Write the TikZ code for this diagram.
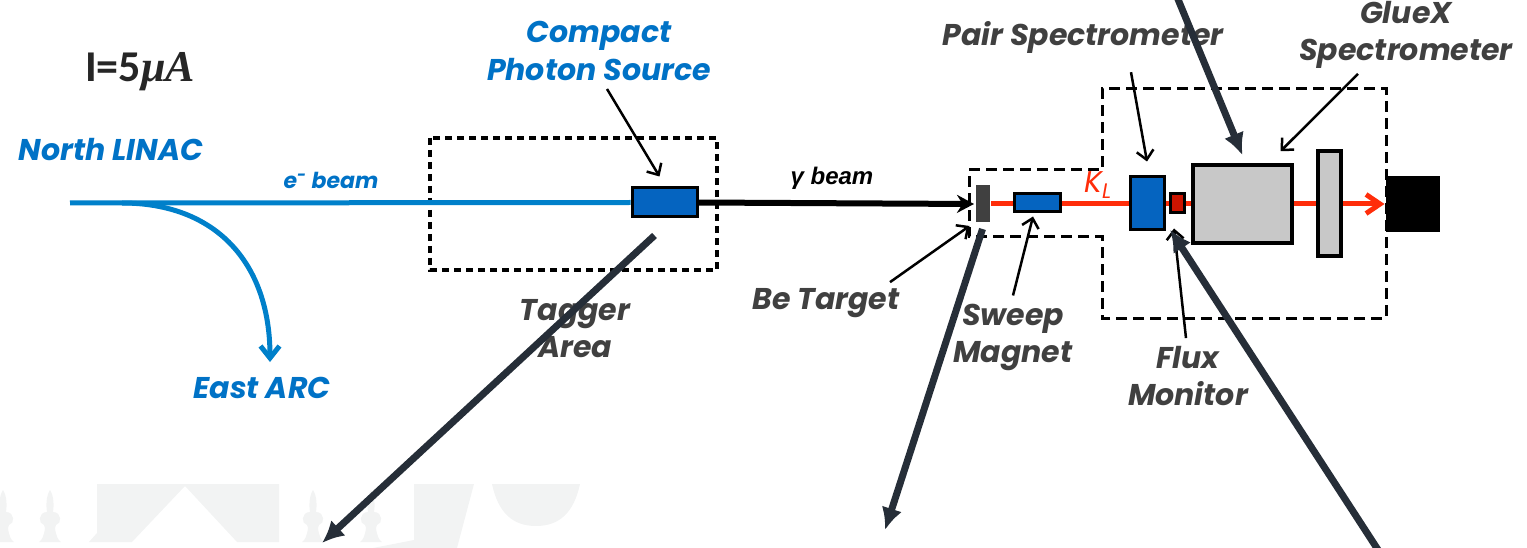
\documentclass[tikz,border=0pt]{standalone}
\usepackage{fontspec}
\setmainfont{Poppins}
\newfontfamily\arialfont{Liberation Sans}
\newfontfamily\calibrifont{Carlito}
\newfontfamily\serifmath{Liberation Serif}
\usetikzlibrary{arrows.meta,positioning,calc}
\definecolor{linacblue}{RGB}{0,114,198}
\definecolor{beamblue}{RGB}{0,128,202}
\definecolor{boxblue}{RGB}{5,100,192}
\definecolor{textgray}{RGB}{64,64,64}
\definecolor{slate}{RGB}{38,46,56}
\definecolor{klred}{RGB}{255,45,10}
\definecolor{fluxred}{RGB}{204,20,0}
\definecolor{detgray}{RGB}{200,200,200}
\definecolor{wmgray}{RGB}{242,243,243}
\tikzstyle{bluelabel} = [text=linacblue, font=\fontsize{30}{38}\selectfont\bfseries\itshape, align=center, inner sep=0pt]
\tikzstyle{graylabel} = [text=textgray, font=\fontsize{30}{37}\selectfont\bfseries\itshape, align=center, inner sep=0pt]
\tikzstyle{comp} = [draw=black, line width=3pt, inner sep=0pt, fill=boxblue]
\tikzstyle{thinarrow} = [line width=2.5pt, -{Straight Barb[length=9pt,width=17pt]}]
\tikzstyle{thickarrow} = [slate, line width=7pt, -{Latex[length=22pt,width=21pt]}]
\tikzstyle{ebeam} = [beamblue, line width=5pt]
\tikzstyle{gbeam} = [black, line width=6pt, -{Stealth[length=17pt,width=18pt]}]
\tikzstyle{kbeam} = [klred, line width=5pt, -{Straight Barb[length=14pt,width=19pt]}]
\tikzstyle{area} = [black, line width=4pt, dash pattern=on 7pt off 5pt]

\begin{document}
\begin{tikzpicture}[x=1pt,y=-1pt]
\useasboundingbox (0,0) rectangle (1527,548);

% faint logo in the background
\fill[wmgray] (97,484) -- (279,484) -- (279,542) -- (237,542) -- (185,486) -- (132,542) -- (89,542) -- (97,533) -- cycle;
\fill[wmgray] (414,484) -- (474,484) -- (457,548) -- (373,548) -- (414,540) -- cycle;
\fill[wmgray] (492,484) -- (580,484) .. controls (574,512) and (560,526) .. (536,526) .. controls (512,526) and (498,512) .. (492,484) -- cycle;
\foreach \cx in {3,50,313,371}
  \fill[wmgray] (\cx,490) .. controls (\cx+4,496) and (\cx+4,506) .. (\cx+3,512)
    .. controls (\cx+12,512) and (\cx+12,524) .. (\cx+6,525) -- (\cx+5,528) .. controls (\cx+6,536) and (\cx+8,540) .. (\cx+11,542)
    -- (\cx-11,542) .. controls (\cx-8,540) and (\cx-6,536) .. (\cx-5,528) -- (\cx-6,525)
    .. controls (\cx-12,524) and (\cx-12,512) .. (\cx-3,512) .. controls (\cx-4,506) and (\cx-4,496) .. (\cx,490) -- cycle;

% texts
\node[text=black!85, font=\fontsize{44}{44}\selectfont\calibrifont\bfseries] (current) at (140,72) {I=5{\serifmath\itshape μA}};
\node[bluelabel] (linac) at (111,150) {North LINAC};
\node[bluelabel, font=\fontsize{22}{22}\selectfont\bfseries\itshape] (ebeam) at (331,180) {e\textsuperscript{-} beam};
\node[bluelabel] (arc) at (262,388) {East ARC};
\node[bluelabel] (cps) at (599,51) {Compact\\Photon Source};
\node[graylabel] (tagger) at (575,329) {Tagger\\Area};
\node[font=\fontsize{24}{24}\selectfont\arialfont\bfseries\itshape] (gamma) at (832,178) {γ beam};
\node[graylabel] (betext) at (826,303) {Be Target};
\node[graylabel] (sweep) at (1013,337) {Sweep\\Magnet};
\node[graylabel] (flux) at (1188,376) {Flux\\Monitor};
\node[graylabel] (pair) at (1083,37) {Pair Spectrometer};
\node[graylabel] (gluex) at (1406,35) {GlueX\\Spectrometer};

% dashed areas
\draw[area] (430,138) rectangle (717,270);
\draw[area, line width=3pt, dash pattern=on 11pt off 6pt] (969,170) -- (1102,170) -- (1102,89) -- (1386,89) -- (1386,318) -- (1102,318) -- (1102,237) -- (969,237) -- cycle;

% beam line
\node[comp] (cpsbox) at (664.5,202.5) [minimum width=65pt, minimum height=29pt] {};
\node[comp, draw=none, fill=textgray] (target) at (982.5,204) [minimum width=14pt, minimum height=37pt] {};
\node[comp, draw=none, fill=black] (dump) at (1413,204) [minimum width=54pt, minimum height=56pt] {};
\coordinate (linacstart) at (70,203);
\coordinate (split) at (122,203);
\draw[ebeam] (linacstart) -- (cpsbox.west);
\draw[ebeam, -{Straight Barb[length=12pt,width=19pt]}] (split) .. controls (215,203) and (270,262) .. ([xshift=8pt,yshift=15pt]arc.north);
\draw[gbeam] (cpsbox.east) -- (target.west);
\draw[kbeam] (target.east) -- (dump.west);
\node[text=klred, font=\fontsize{30}{30}\selectfont\itshape, inner sep=0pt] (kl) at (1098,185) {K\textsubscript{L}};

\node[comp] (sweepbox) at (1037,203) [minimum width=46pt, minimum height=18pt] {};
\node[comp] (pairbox) at (1147,203.5) [minimum width=34pt, minimum height=53pt] {};
\node[comp, fill=fluxred] (fluxbox) at (1177,203.5) [minimum width=14pt, minimum height=19pt] {};
\node[comp, fill=detgray, line width=3.5pt] (gluexbox) at (1242.5,204) [minimum width=99pt, minimum height=78pt] {};
\node[comp, fill=detgray, line width=3.5pt] (calbox) at (1329.5,203.5) [minimum width=23pt, minimum height=105pt] {};

% thin pointers
\draw[thinarrow] ([xshift=8pt,yshift=-8pt]cps.south) -- ([xshift=-5pt,yshift=10pt]cpsbox.north);
\draw[thinarrow] ([xshift=64pt,yshift=6pt]betext.north) -- ([xshift=-13pt,yshift=-2pt]target.south);
\draw[thinarrow] ([yshift=8pt]sweep.north) -- ([xshift=-4pt,yshift=-3pt]sweepbox.south);
\draw[thinarrow] ([xshift=-2pt,yshift=8pt]flux.north) -- ([xshift=-3pt,yshift=-14pt]fluxbox.south);
\draw[thinarrow] ([xshift=48pt,yshift=-19pt]pair.south) -- ([yshift=14pt]pairbox.north);
\draw[thinarrow] ([xshift=-48pt,yshift=-5pt]gluex.south) -- ([xshift=38pt,yshift=12pt]gluexbox.north);

% thick pointers to the photos
\coordinate (photoA) at (322,543);
\coordinate (photoB) at (885,530);
\coordinate (photoC) at (1382,556);
\coordinate (photoD) at (1175,-8);
\draw[thickarrow, {Latex[length=22pt,width=21pt]}-] (photoA) -- ([xshift=-10pt,yshift=-17pt]cpsbox.south);
\draw[thickarrow, {Latex[length=22pt,width=21pt]}-] (photoB) -- ([xshift=0pt,yshift=-5pt]target.south);
\draw[thickarrow] (photoC) -- ([xshift=-7pt,yshift=-15pt]fluxbox.south);
\draw[thickarrow] (photoD) -- ([yshift=8pt]gluexbox.north);
\end{tikzpicture}
\end{document}
